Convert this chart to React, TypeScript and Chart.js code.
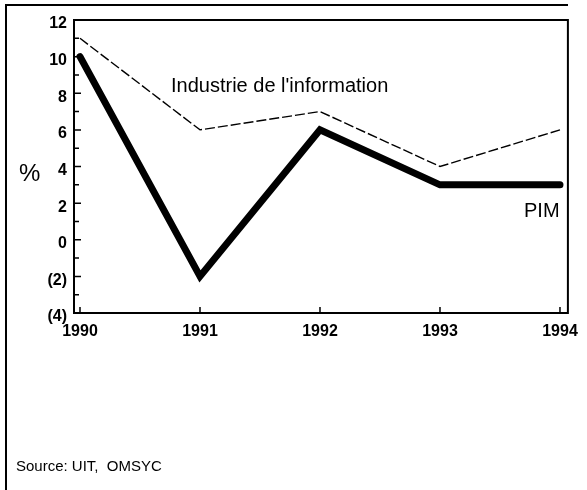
import React, { useEffect, useRef } from "react";
import { Chart, registerables } from "chart.js";

Chart.register(...registerables);

// ---- data ----
const years = [1990, 1991, 1992, 1993, 1994];
const industrieValues = [11, 6, 7, 4, 6];
const pimValues = [10, -2, 6, 3, 3];
const yTickValues = [-4, -2, 0, 2, 4, 6, 8, 10, 12];
const yMinorTickValues = [-3, -1, 1, 3, 5, 7, 9, 11];
const seriesLabels = ["Industrie de l'information", "PIM"];
const yUnitLabel = "%";
const sourceText = "Source: UIT,  OMSYC";

const FONT = "'Liberation Sans', Arial, Helvetica, sans-serif";

const framePlugin = {
  id: "frameTicks",
  afterDatasetsDraw(chart: any) {
    const { ctx, chartArea: a, scales } = chart;
    ctx.save();
    ctx.strokeStyle = "#000";
    ctx.lineWidth = 2;
    ctx.strokeRect(a.left, a.top, a.right - a.left, a.bottom - a.top);
    ctx.lineWidth = 1.5;
    ctx.beginPath();
    yTickValues.forEach((v) => {
      const y = scales.y.getPixelForValue(v);
      ctx.moveTo(a.left, y);
      ctx.lineTo(a.left + 7, y);
    });
    yMinorTickValues.forEach((v) => {
      const y = scales.y.getPixelForValue(v);
      ctx.moveTo(a.left, y);
      ctx.lineTo(a.left + 5, y);
    });
    years.forEach((v) => {
      const x = scales.x.getPixelForValue(v);
      ctx.moveTo(x, a.bottom);
      ctx.lineTo(x, a.bottom - 6);
    });
    ctx.stroke();
    ctx.restore();
  },
};

function ChartCanvas() {
  const ref = useRef<HTMLCanvasElement | null>(null);
  useEffect(() => {
    if (!ref.current) return;
    const chart = new Chart(ref.current, {
      type: "line",
      data: {
        datasets: [
          {
            label: seriesLabels[0],
            data: years.map((x, i) => ({ x, y: industrieValues[i] })),
            borderColor: "#000",
            borderWidth: 1.4,
            borderDash: [10, 3],
            pointRadius: 0,
            tension: 0,
            fill: false,
          },
          {
            label: seriesLabels[1],
            data: years.map((x, i) => ({ x, y: pimValues[i] })),
            borderColor: "#000",
            borderWidth: 7,
            borderJoinStyle: "miter",
            borderCapStyle: "round",
            pointRadius: 0,
            tension: 0,
            fill: false,
          },
        ],
      },
      options: {
        responsive: false,
        animation: false,
        layout: { padding: { top: 20, right: 14, left: 0, bottom: 0 } },
        plugins: { legend: { display: false }, tooltip: { enabled: false } },
        scales: {
          x: {
            type: "linear",
            min: 1989.95,
            max: 1994.066,
            grid: { display: false, drawTicks: false },
            border: { display: false },
            afterBuildTicks: (s: any) => {
              s.ticks = years.map((v) => ({ value: v }));
            },
            afterFit: (s: any) => {
              s.height = 177;
            },
            ticks: {
              color: "#000",
              padding: 9,
              maxRotation: 0,
              autoSkip: false,
              font: { family: FONT, size: 16, weight: "bold" },
              callback: (v: any) => String(v),
            },
          },
          y: {
            min: -4,
            max: 12,
            grid: { display: false, drawTicks: false },
            border: { display: false },
            afterBuildTicks: (s: any) => {
              s.ticks = yTickValues.map((v) => ({ value: v }));
            },
            afterFit: (s: any) => {
              s.width = 74;
            },
            ticks: {
              color: "#000",
              padding: 7,
              labelOffset: 4,
              autoSkip: false,
              font: { family: FONT, size: 16, weight: "bold" },
              callback: (v: any) => (v < 0 ? `(${-v})` : String(v)),
            },
          },
        },
      },
      plugins: [framePlugin],
    } as any);
    return () => chart.destroy();
  }, []);
  return <canvas ref={ref} width={587} height={490} style={{ display: "block" }} />;
}

export default function App() {
  const txt = (extra: React.CSSProperties): React.CSSProperties => ({
    position: "absolute",
    fontFamily: FONT,
    color: "#000",
    whiteSpace: "pre",
    margin: 0,
    ...extra,
  });
  return (
    <div
      style={{
        position: "fixed",
        left: 0,
        top: 0,
        width: 587,
        height: 490,
        background: "#fff",
        overflow: "hidden",
      }}
    >
      <ChartCanvas />
      <div
        style={{
          position: "absolute",
          left: 5,
          top: 4,
          width: 561,
          height: 520,
          borderLeft: "2px solid #000",
          borderTop: "2px solid #000",
          pointerEvents: "none",
        }}
      />
      <div style={txt({ left: 19, top: 161, fontSize: 24, lineHeight: "24px" })}>{yUnitLabel}</div>
      <div style={txt({ left: 171, top: 75, fontSize: 20, lineHeight: "20px" })}>{seriesLabels[0]}</div>
      <div style={txt({ left: 524, top: 200, fontSize: 20, lineHeight: "20px" })}>{seriesLabels[1]}</div>
      <div style={txt({ left: 16, top: 458, fontSize: 15, lineHeight: "15px" })}>{sourceText}</div>
    </div>
  );
}
